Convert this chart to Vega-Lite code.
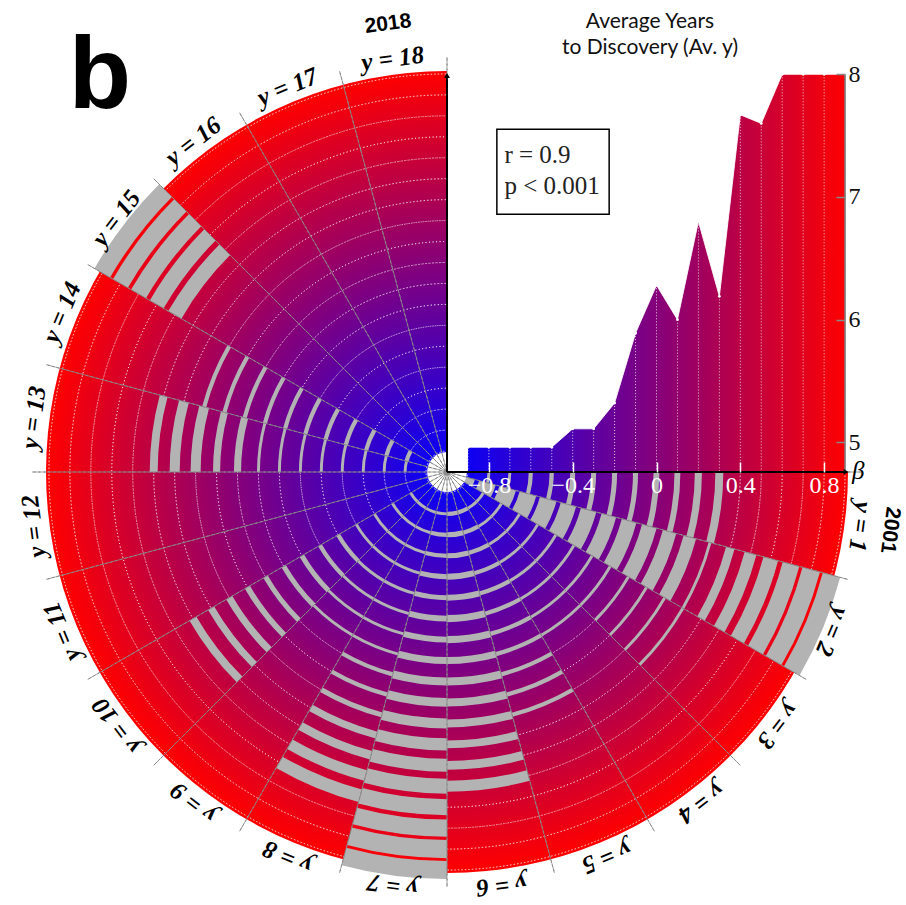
{
  "$schema": "https://vega.github.io/schema/vega-lite/v6.json",
  "width": 802,
  "height": 802,
  "autosize": {"type": "none"},
  "padding": {"left": 46, "top": 71, "right": 58, "bottom": 32},
  "background": "white",
  "config": {"view": {"stroke": null}, "axis": {"grid": false}},
  "datasets": {
    "bg": [{"a": 0, "b": 18, "r0": -1, "r1": 0.914}],
    "rings": [{"b": -0.9}, {"b": -0.8}, {"b": -0.7}, {"b": -0.6}, {"b": -0.5}, {"b": -0.4}, {"b": -0.3}, {"b": -0.2}, {"b": -0.1}, {"b": 0}, {"b": 0.1}, {"b": 0.2}, {"b": 0.3}, {"b": 0.4}, {"b": 0.5}, {"b": 0.6}, {"b": 0.7}, {"b": 0.8}, {"b": 0.9}],
    "bounds": [{"s": 0}, {"s": 1}, {"s": 2}, {"s": 3}, {"s": 4}, {"s": 5}, {"s": 6}, {"s": 7}, {"s": 8}, {"s": 9}, {"s": 10}, {"s": 11}, {"s": 12}, {"s": 13}, {"s": 14}, {"s": 15}, {"s": 16}, {"s": 17}, {"s": 18}],
    "bars": [
      {"a": 0, "y": 1, "lo": -0.807, "hi": -0.793}, {"a": 0, "y": 1, "lo": -0.707, "hi": -0.693}, {"a": 0, "y": 1, "lo": -0.61, "hi": -0.59}, {"a": 0, "y": 1, "lo": -0.51, "hi": -0.49}, {"a": 0, "y": 1, "lo": -0.412, "hi": -0.388}, {"a": 0, "y": 1, "lo": -0.312, "hi": -0.288}, {"a": 0, "y": 1, "lo": -0.212, "hi": -0.188}, {"a": 0, "y": 1, "lo": -0.112, "hi": -0.088}, {"a": 0, "y": 1, "lo": -0.014, "hi": 0.014}, {"a": 0, "y": 1, "lo": 0.086, "hi": 0.114}, {"a": 0, "y": 1, "lo": 0.183, "hi": 0.217}, {"a": 0, "y": 1, "lo": 0.281, "hi": 0.319},
      {"a": 1, "y": 2, "lo": -0.938, "hi": -0.862}, {"a": 1, "y": 2, "lo": -0.841, "hi": -0.759}, {"a": 1, "y": 2, "lo": -0.741, "hi": -0.659}, {"a": 1, "y": 2, "lo": -0.641, "hi": -0.559}, {"a": 1, "y": 2, "lo": -0.541, "hi": -0.459}, {"a": 1, "y": 2, "lo": -0.438, "hi": -0.362}, {"a": 1, "y": 2, "lo": -0.338, "hi": -0.262}, {"a": 1, "y": 2, "lo": -0.236, "hi": -0.164}, {"a": 1, "y": 2, "lo": -0.136, "hi": -0.064}, {"a": 1, "y": 2, "lo": -0.036, "hi": 0.036}, {"a": 1, "y": 2, "lo": 0.067, "hi": 0.133}, {"a": 1, "y": 2, "lo": 0.169, "hi": 0.231}, {"a": 1, "y": 2, "lo": 0.293, "hi": 0.307}, {"a": 1, "y": 2, "lo": 0.379, "hi": 0.421}, {"a": 1, "y": 2, "lo": 0.471, "hi": 0.529}, {"a": 1, "y": 2, "lo": 0.564, "hi": 0.636}, {"a": 1, "y": 2, "lo": 0.659, "hi": 0.741}, {"a": 1, "y": 2, "lo": 0.757, "hi": 0.843}, {"a": 1, "y": 2, "lo": 0.857, "hi": 0.943},
      {"a": 2, "y": 3, "lo": -0.807, "hi": -0.793}, {"a": 2, "y": 3, "lo": -0.707, "hi": -0.693}, {"a": 2, "y": 3, "lo": -0.607, "hi": -0.593}, {"a": 2, "y": 3, "lo": -0.507, "hi": -0.493}, {"a": 2, "y": 3, "lo": -0.407, "hi": -0.393}, {"a": 2, "y": 3, "lo": -0.307, "hi": -0.293}, {"a": 2, "y": 3, "lo": -0.207, "hi": -0.193}, {"a": 2, "y": 3, "lo": -0.107, "hi": -0.093}, {"a": 2, "y": 3, "lo": -0.007, "hi": 0.007}, {"a": 2, "y": 3, "lo": 0.093, "hi": 0.107}, {"a": 2, "y": 3, "lo": 0.193, "hi": 0.207}, {"a": 2, "y": 3, "lo": 0.293, "hi": 0.307},
      {"a": 3, "y": 4, "lo": -0.807, "hi": -0.793}, {"a": 3, "y": 4, "lo": -0.707, "hi": -0.693}, {"a": 3, "y": 4, "lo": -0.607, "hi": -0.593}, {"a": 3, "y": 4, "lo": -0.507, "hi": -0.493}, {"a": 3, "y": 4, "lo": -0.407, "hi": -0.393}, {"a": 3, "y": 4, "lo": -0.307, "hi": -0.293}, {"a": 3, "y": 4, "lo": -0.207, "hi": -0.193}, {"a": 3, "y": 4, "lo": -0.107, "hi": -0.093},
      {"a": 4, "y": 5, "lo": -0.81, "hi": -0.79}, {"a": 4, "y": 5, "lo": -0.71, "hi": -0.69}, {"a": 4, "y": 5, "lo": -0.61, "hi": -0.59}, {"a": 4, "y": 5, "lo": -0.51, "hi": -0.49}, {"a": 4, "y": 5, "lo": -0.41, "hi": -0.39}, {"a": 4, "y": 5, "lo": -0.31, "hi": -0.29}, {"a": 4, "y": 5, "lo": -0.21, "hi": -0.19}, {"a": 4, "y": 5, "lo": -0.11, "hi": -0.09}, {"a": 4, "y": 5, "lo": -0.01, "hi": 0.01}, {"a": 4, "y": 5, "lo": 0.09, "hi": 0.11}, {"a": 4, "y": 5, "lo": 0.19, "hi": 0.21},
      {"a": 5, "y": 6, "lo": -0.81, "hi": -0.79}, {"a": 5, "y": 6, "lo": -0.712, "hi": -0.688}, {"a": 5, "y": 6, "lo": -0.612, "hi": -0.588}, {"a": 5, "y": 6, "lo": -0.514, "hi": -0.486}, {"a": 5, "y": 6, "lo": -0.414, "hi": -0.386}, {"a": 5, "y": 6, "lo": -0.317, "hi": -0.283}, {"a": 5, "y": 6, "lo": -0.217, "hi": -0.183}, {"a": 5, "y": 6, "lo": -0.117, "hi": -0.083}, {"a": 5, "y": 6, "lo": -0.019, "hi": 0.019}, {"a": 5, "y": 6, "lo": 0.081, "hi": 0.119}, {"a": 5, "y": 6, "lo": 0.181, "hi": 0.219}, {"a": 5, "y": 6, "lo": 0.281, "hi": 0.319}, {"a": 5, "y": 6, "lo": 0.379, "hi": 0.421}, {"a": 5, "y": 6, "lo": 0.474, "hi": 0.526},
      {"a": 6, "y": 7, "lo": -0.807, "hi": -0.793}, {"a": 6, "y": 7, "lo": -0.71, "hi": -0.69}, {"a": 6, "y": 7, "lo": -0.61, "hi": -0.59}, {"a": 6, "y": 7, "lo": -0.512, "hi": -0.488}, {"a": 6, "y": 7, "lo": -0.412, "hi": -0.388}, {"a": 6, "y": 7, "lo": -0.314, "hi": -0.286}, {"a": 6, "y": 7, "lo": -0.214, "hi": -0.186}, {"a": 6, "y": 7, "lo": -0.117, "hi": -0.083}, {"a": 6, "y": 7, "lo": -0.019, "hi": 0.019}, {"a": 6, "y": 7, "lo": 0.079, "hi": 0.121}, {"a": 6, "y": 7, "lo": 0.176, "hi": 0.224}, {"a": 6, "y": 7, "lo": 0.271, "hi": 0.329}, {"a": 6, "y": 7, "lo": 0.369, "hi": 0.431}, {"a": 6, "y": 7, "lo": 0.464, "hi": 0.536}, {"a": 6, "y": 7, "lo": 0.562, "hi": 0.638}, {"a": 6, "y": 7, "lo": 0.659, "hi": 0.741}, {"a": 6, "y": 7, "lo": 0.757, "hi": 0.843}, {"a": 6, "y": 7, "lo": 0.857, "hi": 0.943},
      {"a": 7, "y": 8, "lo": -0.807, "hi": -0.793}, {"a": 7, "y": 8, "lo": -0.707, "hi": -0.693}, {"a": 7, "y": 8, "lo": -0.607, "hi": -0.593}, {"a": 7, "y": 8, "lo": -0.507, "hi": -0.493}, {"a": 7, "y": 8, "lo": -0.407, "hi": -0.393}, {"a": 7, "y": 8, "lo": -0.307, "hi": -0.293}, {"a": 7, "y": 8, "lo": -0.207, "hi": -0.193}, {"a": 7, "y": 8, "lo": -0.107, "hi": -0.093}, {"a": 7, "y": 8, "lo": -0.01, "hi": 0.01}, {"a": 7, "y": 8, "lo": 0.09, "hi": 0.11}, {"a": 7, "y": 8, "lo": 0.188, "hi": 0.212}, {"a": 7, "y": 8, "lo": 0.283, "hi": 0.317}, {"a": 7, "y": 8, "lo": 0.379, "hi": 0.421}, {"a": 7, "y": 8, "lo": 0.474, "hi": 0.526}, {"a": 7, "y": 8, "lo": 0.569, "hi": 0.631},
      {"a": 8, "y": 9, "lo": -0.807, "hi": -0.793}, {"a": 8, "y": 9, "lo": -0.707, "hi": -0.693}, {"a": 8, "y": 9, "lo": -0.607, "hi": -0.593}, {"a": 8, "y": 9, "lo": -0.507, "hi": -0.493}, {"a": 8, "y": 9, "lo": -0.407, "hi": -0.393}, {"a": 8, "y": 9, "lo": -0.307, "hi": -0.293}, {"a": 8, "y": 9, "lo": -0.207, "hi": -0.193}, {"a": 8, "y": 9, "lo": -0.107, "hi": -0.093},
      {"a": 9, "y": 10, "lo": -0.807, "hi": -0.793}, {"a": 9, "y": 10, "lo": -0.707, "hi": -0.693}, {"a": 9, "y": 10, "lo": -0.607, "hi": -0.593}, {"a": 9, "y": 10, "lo": -0.507, "hi": -0.493}, {"a": 9, "y": 10, "lo": -0.41, "hi": -0.39}, {"a": 9, "y": 10, "lo": -0.31, "hi": -0.29}, {"a": 9, "y": 10, "lo": -0.212, "hi": -0.188}, {"a": 9, "y": 10, "lo": -0.112, "hi": -0.088}, {"a": 9, "y": 10, "lo": -0.012, "hi": 0.012}, {"a": 9, "y": 10, "lo": 0.086, "hi": 0.114}, {"a": 9, "y": 10, "lo": 0.183, "hi": 0.217}, {"a": 9, "y": 10, "lo": 0.283, "hi": 0.317}, {"a": 9, "y": 10, "lo": 0.381, "hi": 0.419},
      {"a": 12, "y": 13, "lo": -0.807, "hi": -0.793}, {"a": 12, "y": 13, "lo": -0.707, "hi": -0.693}, {"a": 12, "y": 13, "lo": -0.607, "hi": -0.593}, {"a": 12, "y": 13, "lo": -0.507, "hi": -0.493}, {"a": 12, "y": 13, "lo": -0.407, "hi": -0.393}, {"a": 12, "y": 13, "lo": -0.307, "hi": -0.293}, {"a": 12, "y": 13, "lo": -0.207, "hi": -0.193}, {"a": 12, "y": 13, "lo": -0.107, "hi": -0.093}, {"a": 12, "y": 13, "lo": -0.017, "hi": 0.017}, {"a": 12, "y": 13, "lo": 0.083, "hi": 0.117}, {"a": 12, "y": 13, "lo": 0.176, "hi": 0.224}, {"a": 12, "y": 13, "lo": 0.276, "hi": 0.324}, {"a": 12, "y": 13, "lo": 0.381, "hi": 0.419},
      {"a": 13, "y": 14, "lo": -0.81, "hi": -0.79}, {"a": 13, "y": 14, "lo": -0.71, "hi": -0.69}, {"a": 13, "y": 14, "lo": -0.61, "hi": -0.59}, {"a": 13, "y": 14, "lo": -0.51, "hi": -0.49}, {"a": 13, "y": 14, "lo": -0.41, "hi": -0.39}, {"a": 13, "y": 14, "lo": -0.31, "hi": -0.29}, {"a": 13, "y": 14, "lo": -0.21, "hi": -0.19}, {"a": 13, "y": 14, "lo": -0.11, "hi": -0.09}, {"a": 13, "y": 14, "lo": -0.01, "hi": 0.01}, {"a": 13, "y": 14, "lo": 0.09, "hi": 0.11}, {"a": 13, "y": 14, "lo": 0.19, "hi": 0.21},
      {"a": 14, "y": 15, "lo": 0.464, "hi": 0.536}, {"a": 14, "y": 15, "lo": 0.562, "hi": 0.638}, {"a": 14, "y": 15, "lo": 0.659, "hi": 0.741}, {"a": 14, "y": 15, "lo": 0.759, "hi": 0.841}, {"a": 14, "y": 15, "lo": 0.857, "hi": 0.943}
    ],
    "avg": [
      {"beta": -0.9, "av": 4.96}, {"beta": -0.8, "av": 4.96}, {"beta": -0.7, "av": 4.96}, {"beta": -0.6, "av": 4.96}, {"beta": -0.5, "av": 4.96}, {"beta": -0.4, "av": 5.11}, {"beta": -0.3, "av": 5.11}, {"beta": -0.2, "av": 5.32}, {"beta": -0.1, "av": 5.89}, {"beta": 0, "av": 6.28}, {"beta": 0.1, "av": 6.0}, {"beta": 0.2, "av": 6.8}, {"beta": 0.3, "av": 6.19}, {"beta": 0.4, "av": 7.67}, {"beta": 0.5, "av": 7.6}, {"beta": 0.6, "av": 8.0}, {"beta": 0.7, "av": 8.0}, {"beta": 0.8, "av": 8.0}, {"beta": 0.9, "av": 8.0}
    ],
    "labels": [
      {"lab": "y = 1", "pos": 0.5}, {"lab": "y = 2", "pos": 1.5}, {"lab": "y = 3", "pos": 2.5}, {"lab": "y = 4", "pos": 3.5}, {"lab": "y = 5", "pos": 4.5}, {"lab": "y = 6", "pos": 5.5}, {"lab": "y = 7", "pos": 6.5}, {"lab": "y = 8", "pos": 7.5}, {"lab": "y = 9", "pos": 8.5}, {"lab": "y = 10", "pos": 9.5}, {"lab": "y = 11", "pos": 10.5}, {"lab": "y = 12", "pos": 11.5}, {"lab": "y = 13", "pos": 12.5}, {"lab": "y = 14", "pos": 13.5}, {"lab": "y = 15", "pos": 14.5}, {"lab": "y = 16", "pos": 15.5}, {"lab": "y = 17", "pos": 16.5}, {"lab": "y = 18", "pos": 17.5}
    ],
    "y2001": [{"lab": "2001", "pos": 0.5}],
    "y2018": [{"lab": "2018", "pos": 17.5}],
    "one": [{}]
  },
  "layer": [
    {
      "data": {"name": "bg"},
      "mark": {"type": "arc", "stroke": null, "fill": {"gradient": "radial", "x1": 0.5, "y1": 0.5, "r1": 0, "x2": 0.5, "y2": 0.5, "r2": 0.5, "stops": [{"offset": 0, "color": "#0000ff"}, {"offset": 1, "color": "#ff0000"}]}},
      "encoding": {
        "theta": {"field": "a", "type": "quantitative", "stack": null, "scale": {"type": "linear", "domain": [-6, 18], "zero": false, "nice": false}},
        "theta2": {"field": "b"},
        "radius": {"field": "r1", "type": "quantitative", "stack": null, "scale": {"type": "linear", "domain": [-1, 0.914], "zero": false, "nice": false}},
        "radius2": {"field": "r0"}
      }
    },
    {
      "data": {"name": "rings"},
      "mark": {"type": "arc", "fill": null, "fillOpacity": 0, "stroke": "#ffffff", "strokeWidth": 1, "strokeDash": [1, 2.5], "strokeOpacity": 0.7},
      "encoding": {
        "theta": {"datum": 0, "type": "quantitative", "stack": null},
        "theta2": {"datum": 18},
        "radius": {"field": "b", "type": "quantitative", "stack": null},
        "radius2": {"field": "b"}
      }
    },
    {
      "data": {"name": "bars"},
      "mark": {"type": "arc", "fill": "#b3b3b3", "stroke": null},
      "encoding": {
        "theta": {"field": "a", "type": "quantitative", "stack": null},
        "theta2": {"field": "y"},
        "radius": {"field": "hi", "type": "quantitative", "stack": null},
        "radius2": {"field": "lo"}
      }
    },
    {
      "data": {"name": "one"},
      "mark": {"type": "arc", "fill": "#ffffff", "stroke": null},
      "encoding": {
        "theta": {"datum": -6, "type": "quantitative", "stack": null},
        "theta2": {"datum": 18},
        "radius": {"datum": -0.905, "type": "quantitative", "stack": null},
        "radius2": {"datum": -1}
      }
    },
    {
      "data": {"name": "bounds"},
      "mark": {"type": "arc", "fill": null, "fillOpacity": 0, "stroke": "#8a8a8a", "strokeWidth": 1, "strokeDash": [3, 2]},
      "encoding": {
        "theta": {"field": "s", "type": "quantitative", "stack": null},
        "theta2": {"field": "s"},
        "radius": {"datum": 0.98, "type": "quantitative", "stack": null},
        "radius2": {"datum": -1}
      }
    },
    {
      "data": {"name": "avg"},
      "mark": {"type": "area", "fill": {"gradient": "linear", "x1": 0, "y1": 0, "x2": 1, "y2": 0, "stops": [{"offset": 0, "color": "#0d00f2"}, {"offset": 1, "color": "#fd0002"}]}},
      "encoding": {
        "x": {"field": "beta", "type": "quantitative", "scale": {"type": "linear", "domain": [-2.914, 0.914], "zero": false, "nice": false},
          "axis": {"orient": "bottom", "offset": -401, "values": [-0.8, -0.4, 0, 0.4, 0.8], "format": ".1~f", "title": null, "domain": false, "grid": false, "zindex": 1, "labelColor": "#ffffff", "labelFont": "Liberation Serif", "labelFontSize": 24, "tickColor": "#ffffff", "tickSize": -10, "tickWidth": 1.5, "labelPadding": 11}},
        "y": {"field": "av", "type": "quantitative", "scale": {"type": "linear", "domain": [1.489, 8.027], "zero": false, "nice": false},
          "axis": {"orient": "right", "offset": -3, "values": [5, 6, 7, 8], "format": "d", "title": null, "domain": false, "grid": false, "zindex": 1, "labelColor": "#111111", "labelFont": "Liberation Serif", "labelFontSize": 24, "tickColor": "#888888", "tickSize": -9, "tickWidth": 1.5, "labelPadding": 12}},
        "y2": {"datum": 4.759}
      }
    },
    {
      "data": {"name": "avg"},
      "mark": {"type": "rule", "stroke": "#ffffff", "strokeWidth": 1, "strokeDash": [1, 2], "strokeOpacity": 0.8},
      "encoding": {
        "x": {"field": "beta", "type": "quantitative"},
        "y": {"field": "av", "type": "quantitative"},
        "y2": {"datum": 4.759}
      }
    },
    {
      "data": {"name": "avg"},
      "mark": {"type": "line", "stroke": "#ffffff", "strokeWidth": 1, "strokeOpacity": 0.85, "point": {"filled": true, "fill": "#ffffff", "size": 8}},
      "encoding": {
        "x": {"field": "beta", "type": "quantitative"},
        "y": {"field": "av", "type": "quantitative"}
      }
    },
    {
      "data": {"name": "one"},
      "mark": {"type": "rule", "stroke": "#777777", "strokeWidth": 1.5},
      "encoding": {"x": {"datum": 0.9, "type": "quantitative"}, "y": {"datum": 4.759, "type": "quantitative"}, "y2": {"datum": 8.0}}
    },
    {
      "data": {"name": "one"},
      "mark": {"type": "rule", "stroke": "#000000", "strokeWidth": 2},
      "encoding": {"x": {"datum": -1, "type": "quantitative"}, "x2": {"datum": 0.905}, "y": {"datum": 4.759, "type": "quantitative"}}
    },
    {
      "data": {"name": "one"},
      "mark": {"type": "rule", "stroke": "#000000", "strokeWidth": 2},
      "encoding": {"x": {"datum": -1, "type": "quantitative"}, "y": {"datum": 4.759, "type": "quantitative"}, "y2": {"datum": 7.99}}
    },
    {
      "data": {"name": "one"},
      "mark": {"type": "point", "shape": "triangle-right", "filled": true, "fill": "#000000", "size": 35, "opacity": 1},
      "encoding": {"x": {"datum": 0.905, "type": "quantitative"}, "y": {"datum": 4.759, "type": "quantitative"}}
    },
    {
      "data": {"name": "one"},
      "mark": {"type": "point", "shape": "triangle-up", "filled": true, "fill": "#000000", "size": 35, "opacity": 1},
      "encoding": {"x": {"datum": -1, "type": "quantitative"}, "y": {"datum": 7.99, "type": "quantitative"}}
    },
    {
      "data": {"name": "one"},
      "mark": {"type": "text", "text": "β", "font": "Liberation Serif", "fontStyle": "italic", "fontSize": 25, "align": "left", "baseline": "middle", "color": "#000000"},
      "encoding": {"x": {"datum": 0.933, "type": "quantitative"}, "y": {"datum": 4.767, "type": "quantitative"}}
    },
    {
      "data": {"name": "one"},
      "mark": {"type": "rect", "fill": "#ffffff", "stroke": "#000000", "strokeWidth": 1.5},
      "encoding": {"x": {"datum": -0.762, "type": "quantitative"}, "x2": {"datum": -0.226}, "y": {"datum": 7.552, "type": "quantitative"}, "y2": {"datum": 6.859}}
    },
    {
      "data": {"name": "one"},
      "mark": {"type": "text", "text": "r = 0.9", "font": "Liberation Serif", "fontSize": 25, "align": "left", "baseline": "alphabetic", "color": "#222222"},
      "encoding": {"x": {"datum": -0.726, "type": "quantitative"}, "y": {"datum": 7.277, "type": "quantitative"}}
    },
    {
      "data": {"name": "one"},
      "mark": {"type": "text", "text": "p < 0.001", "font": "Liberation Serif", "fontSize": 25, "align": "left", "baseline": "alphabetic", "color": "#222222"},
      "encoding": {"x": {"datum": -0.726, "type": "quantitative"}, "y": {"datum": 7.024, "type": "quantitative"}}
    },
    {
      "data": {"name": "one"},
      "mark": {"type": "text", "text": "Average Years", "font": "Lato", "fontSize": 21, "align": "center", "baseline": "alphabetic", "color": "#111111"},
      "encoding": {"x": {"datum": -0.031, "type": "quantitative"}, "y": {"datum": 8.38, "type": "quantitative"}}
    },
    {
      "data": {"name": "one"},
      "mark": {"type": "text", "text": "to Discovery (Av. y)", "font": "Lato", "fontSize": 21, "align": "center", "baseline": "alphabetic", "color": "#111111"},
      "encoding": {"x": {"datum": -0.031, "type": "quantitative"}, "y": {"datum": 8.165, "type": "quantitative"}}
    },
    {
      "data": {"name": "one"},
      "mark": {"type": "text", "text": "b", "font": "Liberation Sans", "fontWeight": "bold", "fontSize": 102, "align": "left", "baseline": "alphabetic", "color": "#000000"},
      "encoding": {"x": {"datum": -2.805, "type": "quantitative"}, "y": {"datum": 7.725, "type": "quantitative"}}
    },
    {
      "data": {"name": "labels"},
      "mark": {"type": "text", "font": "Liberation Serif", "fontWeight": "bold", "fontStyle": "italic", "fontSize": 25, "align": "center", "baseline": "middle", "color": "#000000"},
      "encoding": {
        "theta": {"field": "pos", "type": "quantitative", "stack": null},
        "radius": {"datum": 0.99, "type": "quantitative", "stack": null},
        "angle": {"field": "pos", "type": "quantitative", "scale": {"domain": [0, 18], "range": [90, 360]}, "legend": null},
        "text": {"field": "lab"}
      }
    },
    {
      "data": {"name": "y2001"},
      "mark": {"type": "text", "font": "Liberation Sans", "fontWeight": "bold", "fontSize": 21, "align": "center", "baseline": "middle", "color": "#000000"},
      "encoding": {
        "theta": {"field": "pos", "type": "quantitative", "stack": null},
        "radius": {"datum": 1.132, "type": "quantitative", "stack": null},
        "angle": {"field": "pos", "type": "quantitative", "legend": null},
        "text": {"field": "lab"}
      }
    },
    {
      "data": {"name": "y2018"},
      "mark": {"type": "text", "font": "Liberation Sans", "fontWeight": "bold", "fontSize": 21, "align": "center", "baseline": "middle", "color": "#000000"},
      "encoding": {
        "theta": {"field": "pos", "type": "quantitative", "stack": null},
        "radius": {"datum": 1.157, "type": "quantitative", "stack": null},
        "angle": {"field": "pos", "type": "quantitative", "legend": null},
        "text": {"field": "lab"}
      }
    }
  ]
}
